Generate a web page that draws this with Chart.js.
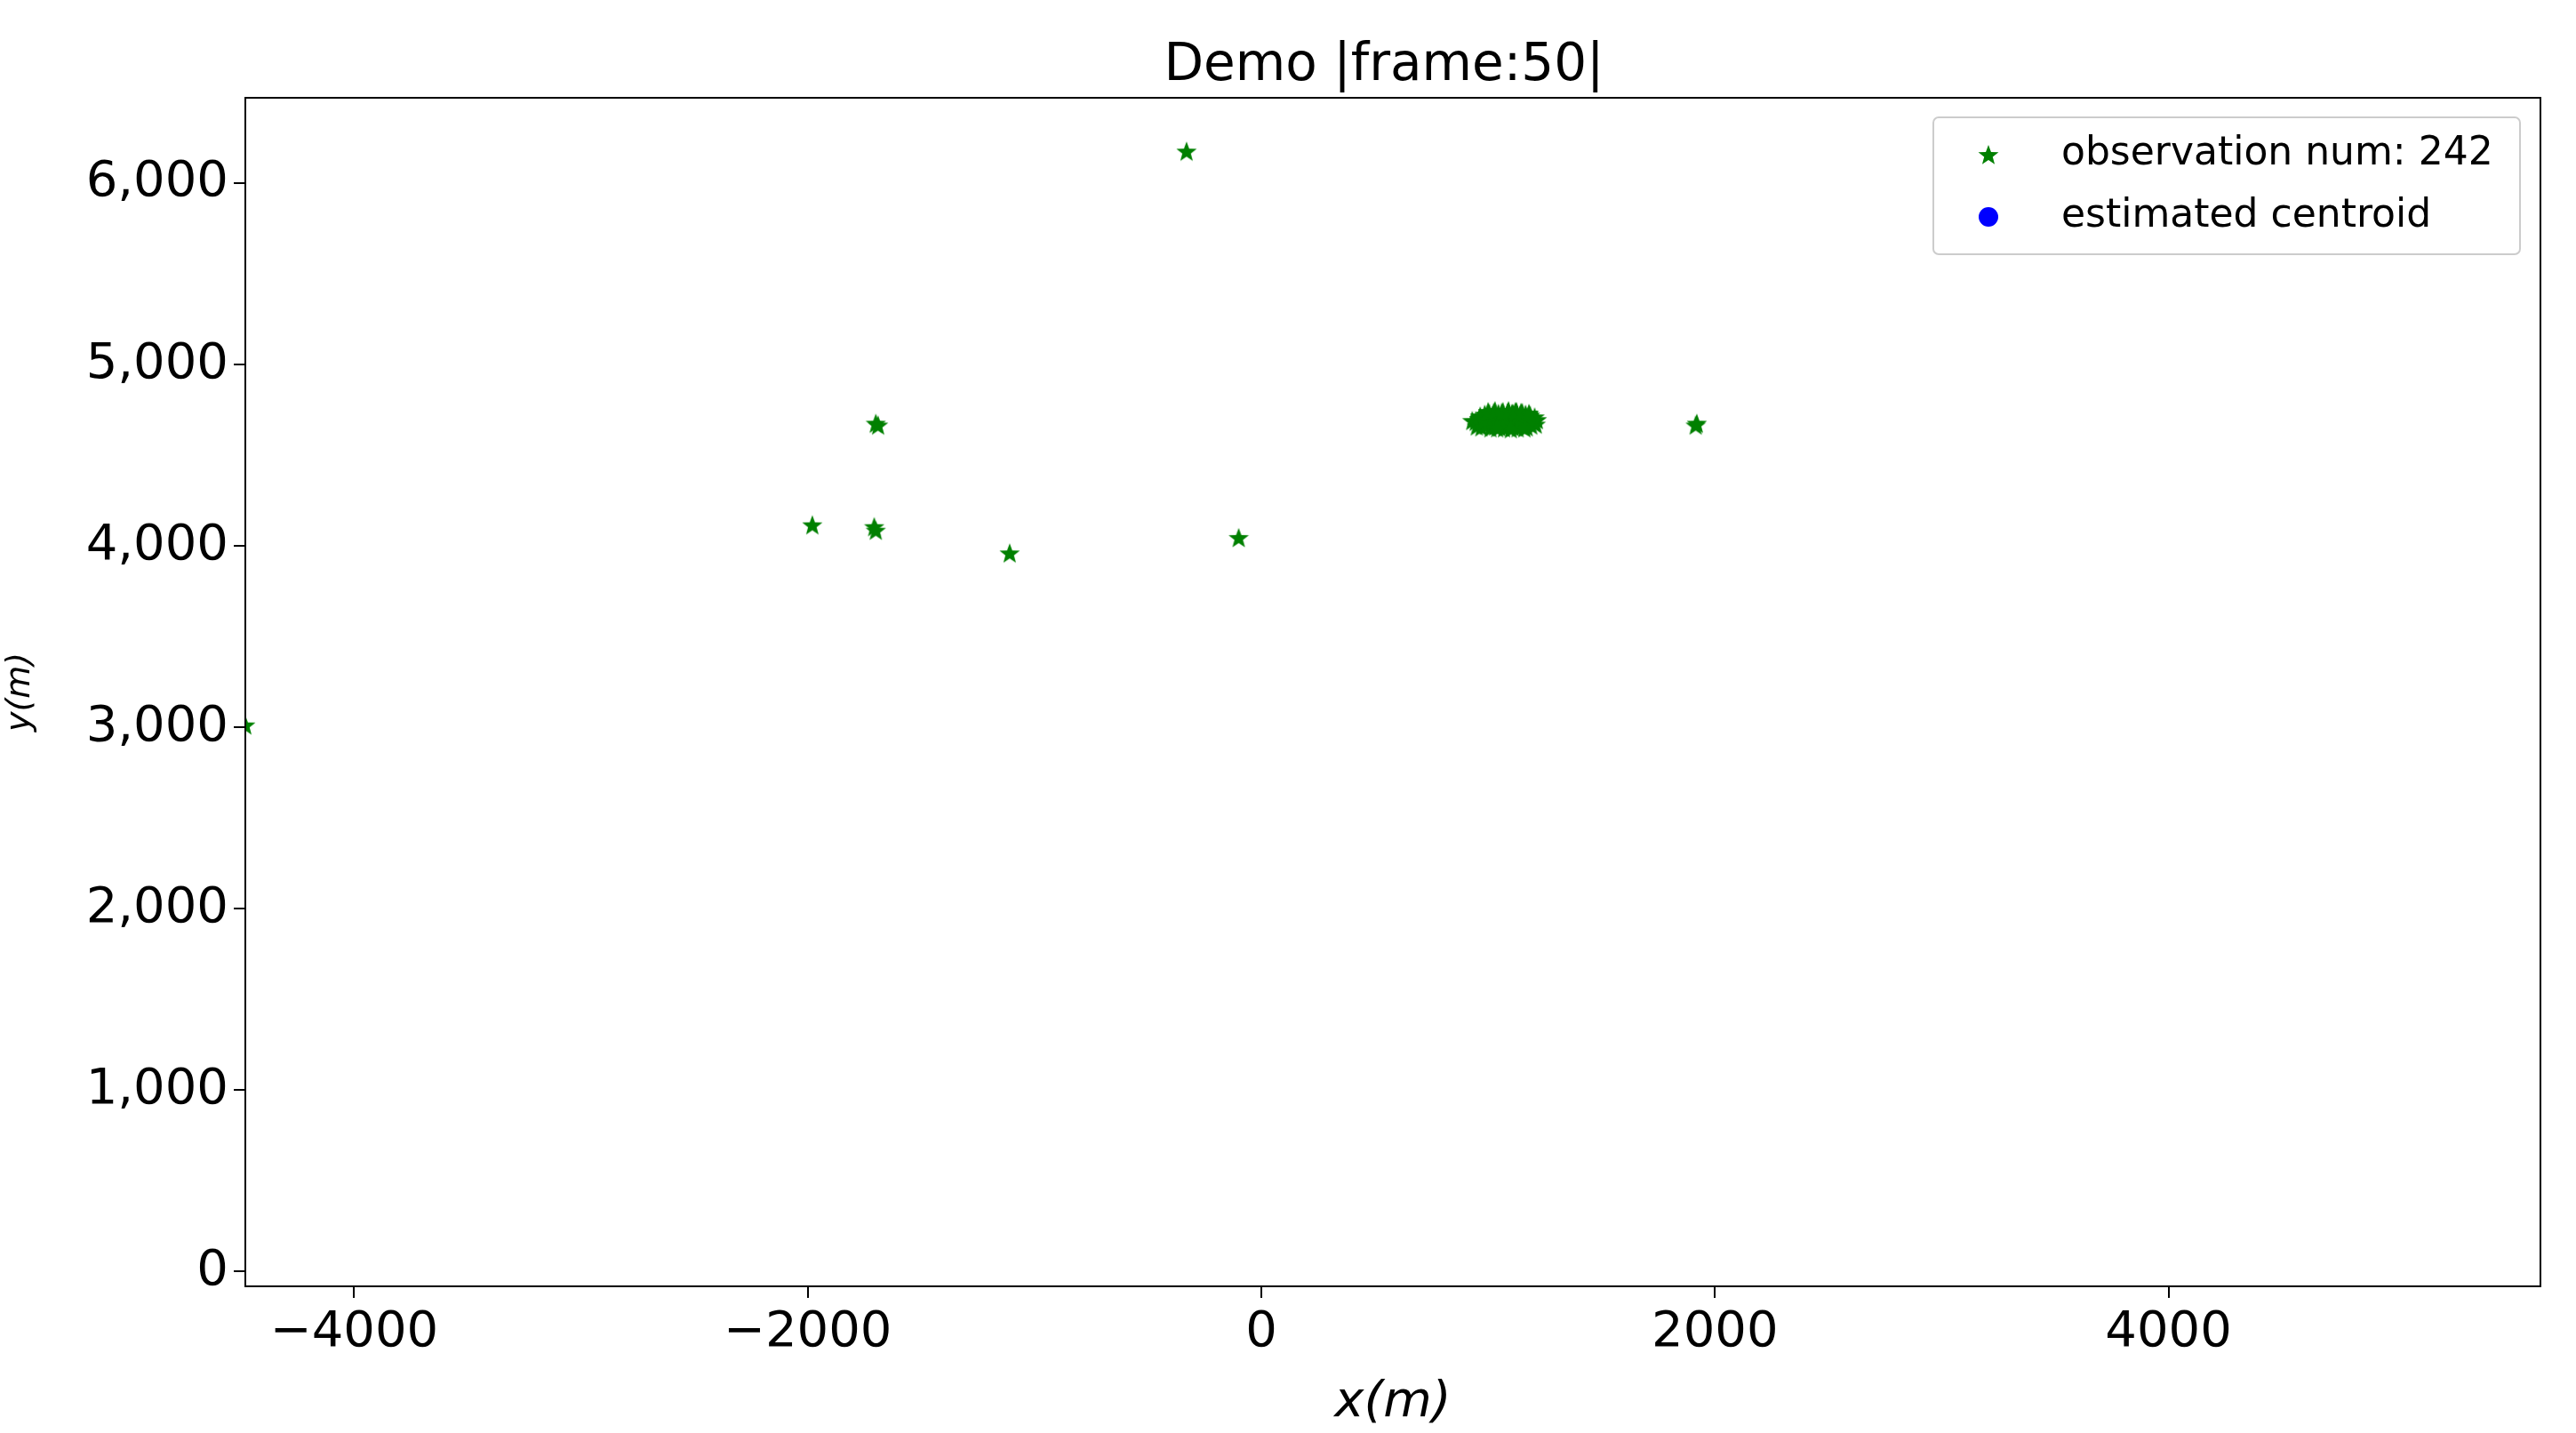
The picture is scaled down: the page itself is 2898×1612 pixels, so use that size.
<!DOCTYPE html>
<html>
<head>
<meta charset="utf-8">
<script src="https://cdn.jsdelivr.net/npm/chart.js@4"></script>
<style>
  html, body { margin: 0; padding: 0; background: #fff; }
  #wrap { width: 2898px; height: 1612px; }
</style>
</head>
<body>
<div id="wrap"><canvas id="myChart" width="2898" height="1612"></canvas></div>
<script>
// outlying observations
const outlierX = [-330, -1700, -1690, -1980, -1707, -1700, -1110, -100, 1920, 1915, -4480];
const outlierY = [6175, 4675, 4665, 4115, 4105, 4085, 3960, 4045, 4675, 4665, 3012];

// dense cluster of observations around the target
const clusterX = [930, 945, 960, 975, 990, 1005, 1020, 1035, 1050, 1065, 1080, 1095, 1110, 1125, 1140, 1155,
  1170, 1185, 1200, 1215, 950, 970, 990, 1010, 1030, 1050, 1070, 1090, 1110, 1130, 1150, 1170, 1190, 1210,
  965, 985, 1005, 1025, 1045, 1065, 1085, 1105, 1125, 1145, 1165, 1185, 1205, 980, 1000, 1020, 1040, 1060,
  1080, 1100, 1120, 1140, 1160, 1180, 1200, 1000, 1030, 1060, 1090, 1120, 1150, 1180, 1040, 1100, 1160];
const clusterY = [4690, 4685, 4700, 4675, 4710, 4690, 4720, 4665, 4705, 4725, 4680, 4715, 4730, 4695, 4720, 4670,
  4710, 4700, 4685, 4695, 4660, 4655, 4665, 4650, 4660, 4655, 4650, 4660, 4655, 4650, 4660, 4655, 4665, 4670,
  4715, 4725, 4730, 4735, 4730, 4740, 4735, 4730, 4740, 4735, 4725, 4720, 4710, 4690, 4675, 4700, 4690, 4685,
  4700, 4680, 4705, 4690, 4700, 4680, 4690, 4740, 4745, 4735, 4745, 4740, 4735, 4730, 4650, 4645, 4650];

const centroidX = [1075];
const centroidY = [4690];
const spreadX = [920, 1225];

const xTicks = [-4000, -2000, 0, 2000, 4000];
const yTicks = [0, 1000, 2000, 3000, 4000, 5000, 6000];

const obsPoints = outlierX.map((x, i) => ({ x: x, y: outlierY[i] }))
  .concat(clusterX.map((x, i) => ({ x: x, y: clusterY[i] })));

// filled five point star marker
function makeStar(size, color) {
  const c = document.createElement('canvas');
  c.width = size; c.height = size;
  const g = c.getContext('2d');
  const r = size / 2, ri = r * 0.42;
  g.beginPath();
  for (let k = 0; k < 10; k++) {
    const rad = k % 2 ? ri : r;
    const a = -Math.PI / 2 + k * Math.PI / 5;
    g.lineTo(r + rad * Math.cos(a), r + rad * Math.sin(a) + 1);
  }
  g.closePath();
  g.fillStyle = color;
  g.fill();
  return c;
}
const star = makeStar(24, 'green');

const FONT = "'DejaVu Sans'";

const framePlugin = {
  id: 'frame',
  afterDraw(chart) {
    const { ctx, chartArea: a } = chart;
    ctx.save();
    ctx.strokeStyle = '#000';
    ctx.lineWidth = 2;
    ctx.strokeRect(a.left, a.top, a.right - a.left, a.bottom - a.top);

    ctx.fillStyle = '#000';
    ctx.textAlign = 'center';
    ctx.textBaseline = 'alphabetic';
    ctx.font = `58px ${FONT}`;
    ctx.fillText('Demo |frame:50|', (a.left + a.right) / 2 - 10, 90);

    // legend
    const lx = 2175, ly = 132, lw = 660, lh = 154;
    ctx.fillStyle = 'rgba(255,255,255,0.8)';
    ctx.strokeStyle = '#ccc';
    ctx.lineWidth = 2;
    ctx.beginPath();
    ctx.roundRect(lx, ly, lw, lh, 6);
    ctx.fill();
    ctx.stroke();
    ctx.drawImage(star, lx + 50, ly + 30);
    ctx.fillStyle = 'blue';
    ctx.beginPath();
    ctx.arc(lx + 62, ly + 112, 11, 0, Math.PI * 2);
    ctx.fill();
    ctx.fillStyle = '#000';
    ctx.textAlign = 'left';
    ctx.textBaseline = 'middle';
    ctx.font = `44px ${FONT}`;
    ctx.fillText('observation num: 242', lx + 144, ly + 42);
    ctx.fillText('estimated centroid', lx + 144, ly + 112);
    ctx.restore();
  }
};

const tickFont = { family: FONT, size: 56 };

new Chart(document.getElementById('myChart').getContext('2d'), {
  type: 'scatter',
  data: {
    datasets: [
      {
        label: 'observation num: 242',
        data: obsPoints,
        pointStyle: star,
        pointRadius: 12,
      },
      {
        label: 'spread',
        type: 'line',
        data: spreadX.map((x) => ({ x: x, y: centroidY[0] })),
        borderColor: 'blue',
        borderWidth: 2,
        pointRadius: 0,
      },
      {
        label: 'estimated centroid',
        data: centroidX.map((x, i) => ({ x: x, y: centroidY[i] })),
        backgroundColor: 'blue',
        borderColor: 'blue',
        pointRadius: 11,
      },
    ],
  },
  options: {
    responsive: false,
    animation: false,
    layout: { padding: { top: 110, right: 40, left: 0, bottom: 0 } },
    plugins: { legend: { display: false }, title: { display: false }, tooltip: { enabled: false } },
    scales: {
      x: {
        type: 'linear',
        min: -4480,
        max: 5640,
        afterBuildTicks: (s) => { s.ticks = xTicks.map((v) => ({ value: v })); },
        afterFit: (s) => { s.height = 165; },
        ticks: {
          color: '#000',
          font: tickFont,
          padding: 6,
          maxRotation: 0,
          callback: (v) => String(v).replace('-', '\u2212'),
        },
        grid: { drawOnChartArea: false, drawTicks: true, tickLength: 13, color: '#000', lineWidth: 2 },
        border: { display: false },
        title: { display: true, text: 'x(m)', color: '#000', font: { family: FONT, size: 56, style: 'italic' }, padding: 0 },
      },
      y: {
        type: 'linear',
        min: -82,
        max: 6470,
        afterBuildTicks: (s) => { s.ticks = yTicks.map((v) => ({ value: v })); },
        afterFit: (s) => { s.width = 276; },
        ticks: { color: '#000', font: tickFont, padding: 6 },
        grid: { drawOnChartArea: false, drawTicks: true, tickLength: 13, color: '#000', lineWidth: 2 },
        border: { display: false },
        title: { display: true, text: 'y(m)', color: '#000', font: { family: FONT, size: 38, style: 'italic' }, padding: 0 },
      },
    },
  },
  plugins: [framePlugin],
});
</script>
</body>
</html>
